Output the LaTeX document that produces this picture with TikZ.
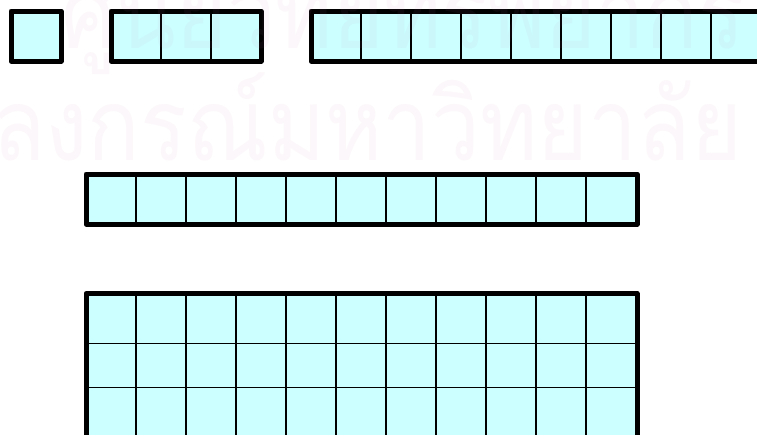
\documentclass[tikz,border=0pt]{standalone}
\usepackage{fontspec}
\newfontfamily\thaifont[Script=Thai]{Loma}
\definecolor{cellfill}{HTML}{CCFFFF}
\definecolor{wmark}{RGB}{200,120,170}
\tikzset{
  cellgrid/.style={draw=black, line width=1.1pt},
  outerbox/.style={draw=black, line width=5pt, line join=round},
  wm/.style={text=wmark, text opacity=0.06, font=\thaifont\fontsize{100}{100}\selectfont, inner sep=0pt, xscale=0.87}
}
\begin{document}
\begin{tikzpicture}[x=1pt,y=-1pt]
\useasboundingbox (0,0) rectangle (757,434);
\clip (0,0) rectangle (757,434);
% box A: one cell
\fill[cellfill] (11,11) rectangle (61,61);
\draw[outerbox] (11,11) rectangle (61,61);
% box B: three cells
\fill[cellfill] (111,11) rectangle (261,61);
\foreach \x in {161,211} \draw[cellgrid] (\x,11) -- (\x,61);
\draw[outerbox] (111,11) rectangle (261,61);
% box C: long row running off the right edge
\fill[cellfill] (311,11) rectangle (811,61);
\foreach \x in {361,411,...,761} \draw[cellgrid] (\x,11) -- (\x,61);
\draw[outerbox] (311,11) rectangle (811,61);
% row of eleven cells
\fill[cellfill] (86,174) rectangle (637,224);
\foreach \x in {136,186,...,586} \draw[cellgrid] (\x,174) -- (\x,224);
\draw[outerbox] (86,174) rectangle (637,224);
% grid running off the bottom edge
\fill[cellfill] (86,293.5) rectangle (637,480);
\foreach \x in {136,186,...,586} \draw[cellgrid] (\x,293.5) -- (\x,480);
\foreach \y in {343.3,387.3} \draw[cellgrid] (86,\y) -- (637,\y);
\draw[outerbox] (86,480) -- (86,293.5) -- (637,293.5) -- (637,480);
% faint watermark
\node[wm, anchor=base east] (wm1) at (745,48) {ศูนย์วิทยทรัพยากร};
\node[wm, anchor=base east] (wm2) at (742,160) {จุฬาลงกรณ์มหาวิทยาลัย};
\end{tikzpicture}
\end{document}
